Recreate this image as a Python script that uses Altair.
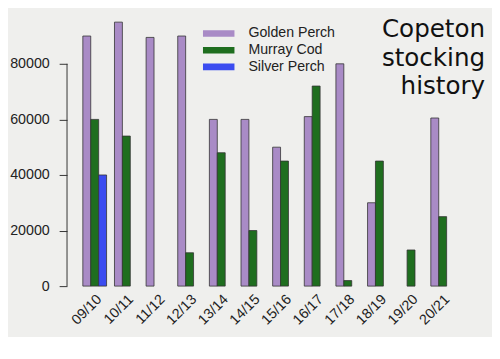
import altair as alt
import pandas as pd

seasons = ["09/10", "10/11", "11/12", "12/13", "13/14", "14/15",
           "15/16", "16/17", "17/18", "18/19", "19/20", "20/21"]
species = ["Golden Perch", "Murray Cod", "Silver Perch"]
golden_perch = [90000, 95000, 89500, 90000, 60000, 60000, 50000, 61000, 80000, 30000, 0, 60500]
murray_cod = [60000, 54000, 0, 12000, 48000, 20000, 45000, 72000, 2000, 45000, 13000, 25000]
silver_perch = [40000, 0, 0, 0, 0, 0, 0, 0, 0, 0, 0, 0]
colors = ["#a98bc6", "#1f6e1f", "#3b4cf0"]
y_ticks = [0, 20000, 40000, 60000, 80000]

rows = []
for i, s in enumerate(seasons):
    for sp, vals in zip(species, [golden_perch, murray_cod, silver_perch]):
        rows.append({"season": s, "species": sp, "count": vals[i]})
df = pd.DataFrame(rows)
axis_df = pd.DataFrame({"lo": [y_ticks[0]], "hi": [y_ticks[-1]]})

yscale = alt.Scale(domain=[0, 97000], nice=False)

bars = alt.Chart(df).transform_filter("datum.count > 0").mark_bar(
    stroke="#333333", strokeWidth=0.8).encode(
    x=alt.X("season:N", sort=seasons,
            scale=alt.Scale(domain=seasons, paddingInner=0.25, paddingOuter=0.5),
            axis=alt.Axis(title=None, labelAngle=-45, labelAlign="right",
                          labelBaseline="top", domain=False, ticks=False,
                          labelPadding=6, labelFontSize=14.5, labelColor="#222222",
                          labelFont="Liberation Sans")),
    xOffset=alt.XOffset("species:N", sort=species,
                        scale=alt.Scale(domain=species)),
    y=alt.Y("count:Q", scale=yscale,
            axis=alt.Axis(title=None, values=y_ticks, domain=False, grid=False,
                          tickSize=8, tickColor="#333333", labelPadding=10,
                          labelFontSize=14.5, labelColor="#222222",
                          labelFont="Liberation Sans", format="d")),
    color=alt.Color("species:N", sort=species,
                    scale=alt.Scale(domain=species, range=colors),
                    legend=alt.Legend(title=None, orient="none", legendX=147, legendY=10,
                                      symbolType="M-4,-0.85L4,-0.85L4,0.85L-4,0.85Z",
                                      symbolSize=64, symbolStrokeWidth=0,
                                      labelFontSize=14.4, labelFont="Liberation Sans",
                                      labelColor="#222222", labelOffset=23,
                                      rowPadding=2)),
)

axis_line = alt.Chart(axis_df).mark_rule(color="#333333", strokeWidth=1).encode(
    y=alt.Y("lo:Q", scale=yscale), y2="hi:Q", x=alt.value(0)
)

chart = alt.layer(bars, axis_line).properties(
    width=410, height=274,
    autosize=alt.AutoSizeParams(type="none"),
    padding={"left": 60, "top": 6, "right": 22, "bottom": 49},
    background="#efefed",
    title=alt.TitleParams(text=["Copeton", "stocking", "history"], anchor="end",
                          orient="top", align="right", baseline="top",
                          fontSize=25, lineHeight=29, font="DejaVu Sans",
                          fontWeight="normal", color="#111111",
                          offset=0, dx=15, dy=84),
).configure_view(stroke=None)

chart.save("out.html", embed_options={"renderer": "svg", "actions": False})
